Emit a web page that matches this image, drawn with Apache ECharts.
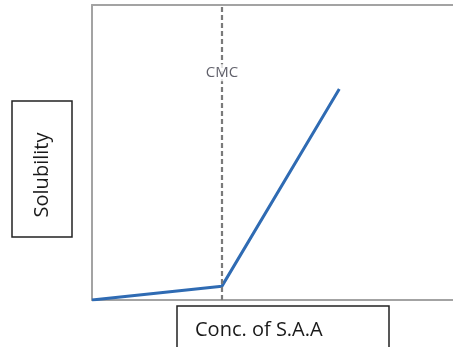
<!DOCTYPE html>
<html><head><meta charset="utf-8">
<script src="https://cdn.jsdelivr.net/npm/echarts@6/dist/echarts.min.js"></script>
<style>html,body{margin:0;padding:0;background:#fff}#c{width:453px;height:347px}</style>
</head><body><div id="c"></div>
<script>
const concValues = [0, 3.6, 6.85];
const solubilityValues = [0, 0.47, 7.15];
const cmcValue = 3.6;
const cmcLabel = 'CMC';
const xTitle = 'Conc. of S.A.A';
const yTitle = 'Solubility';

const chart = echarts.init(document.getElementById('c'), null, {renderer: 'canvas'});
chart.setOption({
  animation: false,
  backgroundColor: '#fff',
  grid: {left: 92, right: 0, top: 5, bottom: 47},
  xAxis: [{
    type: 'value', min: 0, max: 10, position: 'bottom',
    axisLine: {show: true, lineStyle: {color: '#a3a3a3', width: 2}},
    axisTick: {show: false}, axisLabel: {show: false}, splitLine: {show: false}
  }, {
    type: 'value', min: 0, max: 10, position: 'top',
    axisLine: {show: true, lineStyle: {color: '#a3a3a3', width: 2}},
    axisTick: {show: false}, axisLabel: {show: false}, splitLine: {show: false}
  }],
  yAxis: {
    type: 'value', min: 0, max: 10,
    axisLine: {show: true, lineStyle: {color: '#a3a3a3', width: 2}},
    axisTick: {show: false}, axisLabel: {show: false}, splitLine: {show: false}
  },
  series: [{
    type: 'line',
    data: concValues.map((x, i) => [x, solubilityValues[i]]),
    symbol: 'none',
    lineStyle: {color: '#2f6bb3', width: 3},
    markLine: {
      silent: true, symbol: 'none',
      lineStyle: {color: '#7a7a7a', type: [5, 3], width: 2.2},
      label: {show: false},
      data: [{xAxis: cmcValue}]
    },
    z: 3
  }, {
    type: 'scatter',
    data: [[cmcValue, 7.7]],
    symbolSize: 0,
    z: 5,
    label: {
      show: true, position: 'inside', formatter: cmcLabel,
      fontFamily: 'Open Sans', fontSize: 15, color: '#3a3a46',
      backgroundColor: '#fff', padding: [1, 0]
    }
  }],
  graphic: [
    {type: 'rect', shape: {x: 12, y: 101, width: 60, height: 136},
     style: {fill: '#fff', stroke: '#222', lineWidth: 1.5}, z: 10},
    {type: 'text', x: 42, y: 175, rotation: Math.PI / 2,
     style: {text: yTitle, fontFamily: 'Open Sans', fontSize: 20, fill: '#1a1a1a',
             align: 'center', verticalAlign: 'middle'}, z: 11},
    {type: 'rect', shape: {x: 177, y: 306, width: 212, height: 60},
     style: {fill: '#fff', stroke: '#222', lineWidth: 1.5}, z: 10},
    {type: 'text', x: 195, y: 330,
     style: {text: xTitle, fontFamily: 'Open Sans', fontSize: 20, fill: '#1a1a1a',
             align: 'left', verticalAlign: 'middle'}, z: 11}
  ]
});
</script></body></html>
